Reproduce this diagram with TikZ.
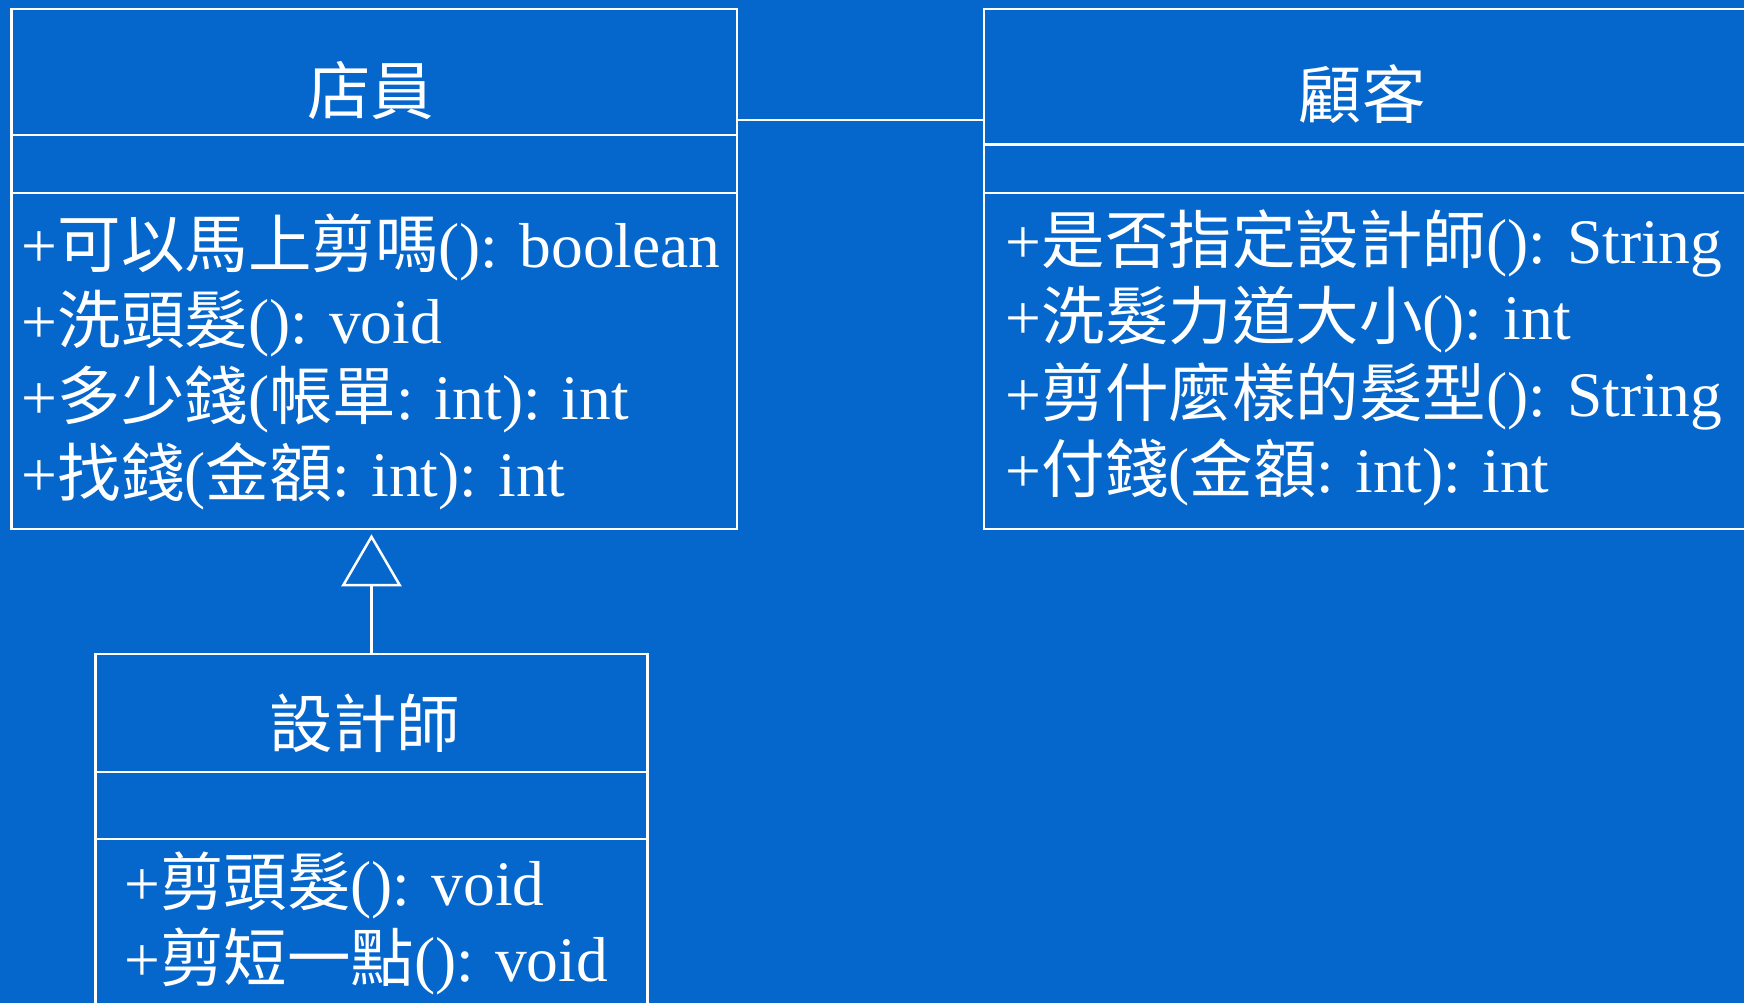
\documentclass[tikz,border=0pt]{standalone}
\usepackage{fontspec}
\setmainfont{Liberation Serif}
\newfontfamily\cjk{Noto Sans CJK TC}
\usetikzlibrary{arrows.meta}
\definecolor{slideblue}{RGB}{5,102,204}
\newcommand{\zh}[1]{{\cjk #1}}

\begin{document}
\begin{tikzpicture}[x=1pt,y=1pt]
\tikzstyle{every node}+=[inner sep=0pt, text=white, font=\fontsize{63.5}{76}\selectfont]
\tikzstyle{part}=[draw=white, line width=2.5pt, rectangle]
\tikzstyle{op}=[anchor=base west]
\tikzstyle{link}=[draw=white, line width=2.5pt]
\useasboundingbox[fill=slideblue] (0,0) rectangle (1744,-1003);
% 店員
\node[part, minimum width=725.5pt, minimum height=126pt] (clerkname) at (374.3,-72) {};
\node[part, minimum width=725.5pt, minimum height=58pt] (clerkattr) at (374.3,-164) {};
\node[part, minimum width=725.5pt, minimum height=336pt] (clerkops) at (374.3,-361) {};
\node (clerk) at (370.6,-91) {\zh{店員}};
\node[op] (clerkop1) at (21.5,-267) {+\zh{可以馬上剪嗎}(): boolean};
\node[op] (clerkop2) at (21.5,-343) {+\zh{洗頭髮}(): void};
\node[op] (clerkop3) at (21.5,-419) {+\zh{多少錢}(\zh{帳單}: int): int};
\node[op] (clerkop4) at (21.5,-496) {+\zh{找錢}(\zh{金額}: int): int};
% 顧客
\node[part, minimum width=762pt, minimum height=135.6pt] (custname) at (1365,-76.8) {};
\node[part, minimum width=762pt, minimum height=48.4pt] (custattr) at (1365,-168.8) {};
\node[part, minimum width=762pt, minimum height=336pt] (custops) at (1365,-361) {};
\node (cust) at (1362,-94) {\zh{顧客}};
\node[op] (custop1) at (1005.5,-263.5) {+\zh{是否指定設計師}(): String};
\node[op] (custop2) at (1005.5,-339.5) {+\zh{洗髮力道大小}(): int};
\node[op] (custop3) at (1005.5,-416) {+\zh{剪什麼樣的髮型}(): String};
\node[op] (custop4) at (1005.5,-492.5) {+\zh{付錢}(\zh{金額}: int): int};
% 設計師
\node[part, minimum width=552pt, minimum height=118pt] (desname) at (371.5,-713) {};
\node[part, minimum width=552pt, minimum height=67pt] (desattr) at (371.5,-805.5) {};
\node[part, minimum width=552pt, minimum height=171pt] (desops) at (371.5,-924.5) {};
\node (des) at (365,-723) {\zh{設計師}};
\node[op] (desop1) at (124,-905) {+\zh{剪頭髮}(): void};
\node[op] (desop2) at (124,-981.7) {+\zh{剪短一點}(): void};
% connectors
\draw[link] (clerkname.east |- 0,-120) -- (custname.west |- 0,-120);
\draw[link, shorten >=4pt, -{Triangle[open, width=60pt, length=52pt]}] (desname.north) -- (desname.north |- clerkops.south);
\end{tikzpicture}
\end{document}
